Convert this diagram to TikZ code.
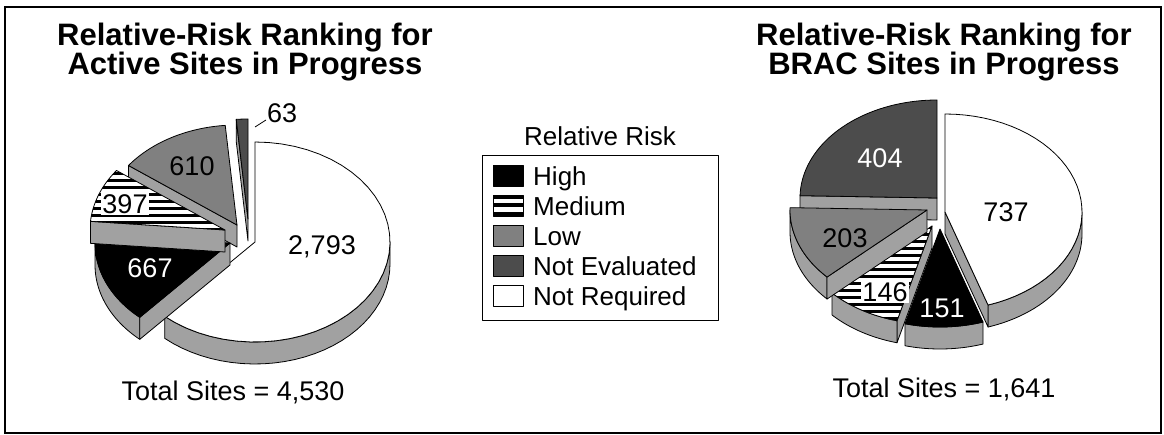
\documentclass[tikz,border=0pt]{standalone}
\usepackage{fontspec}
\setmainfont{Liberation Sans}
\usepackage{tikz}
\usetikzlibrary{positioning}
\definecolor{sidegray}{gray}{0.63}
\definecolor{lowgray}{gray}{0.5}
\definecolor{evalgray}{gray}{0.3}

\tikzset{
  outline/.style={draw=black, line width=0.8pt, line join=round},
  sideface/.style={outline, fill=sidegray},
  lbl/.style={inner sep=0pt, font=\fontsize{27}{30}\selectfont},
  titletext/.style={anchor=base, inner sep=0pt, font=\fontsize{31}{31}\selectfont\bfseries},
  legtext/.style={anchor=base west, inner sep=0pt, font=\fontsize{26}{28}\selectfont},
  swatch/.style={outline, minimum width=30pt, minimum height=21pt, inner sep=0pt},
}

% pie pieces: centre x, centre y, angles; radii \prx, \pry, thickness \pdepth
\def\prx{135}\def\pry{100}\def\pdepth{22}
\newcommand{\rimside}[4]{%
  \path[sideface] plot[domain=#3:#4,samples=30] ({#1+\prx*cos(\x)},{#2-\pry*sin(\x)})
    -- plot[domain=#4:#3,samples=30] ({#1+\prx*cos(\x)},{#2+\pdepth-\pry*sin(\x)}) -- cycle;}
\newcommand{\cutside}[3]{%
  \path[sideface] (#1,#2) -- ({#1+\prx*cos(#3)},{#2-\pry*sin(#3)})
    -- ({#1+\prx*cos(#3)},{#2+\pdepth-\pry*sin(#3)}) -- (#1,{#2+\pdepth}) -- cycle;}
\newcommand{\slicetop}[5]{%
  \path[outline,#5] (#1,#2) -- plot[domain=#3:#4,samples=40] ({#1+\prx*cos(\x)},{#2-\pry*sin(\x)}) -- cycle;}
\newcommand{\stripetop}[4]{%
  \begin{scope}
    \clip (#1,#2) -- plot[domain=#3:#4,samples=40] ({#1+\prx*cos(\x)},{#2-\pry*sin(\x)}) -- cycle;
    \fill[white] ({#1-\prx},{#2-\pry}) rectangle ({#1+\prx},{#2+\pry});
    \foreach \s in {0,7,...,203}
      \fill[black] ({#1-\prx},{#2-\pry+\s}) rectangle ++(2*\prx,3.5);
  \end{scope}
  \slicetop{#1}{#2}{#3}{#4}{fill=none}}

\begin{document}
\begin{tikzpicture}[x=1pt, y=-1pt]
\useasboundingbox (0,0) rectangle (1164,435);
\draw[line width=2pt] (5,7) rectangle (1161,433);

% titles
\node[titletext] (actTitleA) at (245,46) {Relative-Risk Ranking for};
\node[titletext] (actTitleB) at (245,75) {Active Sites in Progress};
\node[titletext] (bracTitleA) at (944,46) {Relative-Risk Ranking for};
\node[titletext] (bracTitleB) at (944,75) {BRAC Sites in Progress};

% active sites
\def\prx{135}\def\pry{100}
\cutside{248}{219}{95}
\slicetop{248}{219}{90}{95}{fill=evalgray}
\cutside{237}{225}{143.48}
\slicetop{237}{225}{95}{143.48}{fill=lowgray}
\rimside{255}{242}{228.04}{360}
\slicetop{255}{242}{228.04}{450}{fill=white}
\rimside{230}{243}{180}{228.04}
\cutside{230}{243}{228.04}
\slicetop{230}{243}{175.03}{228.04}{fill=black}
\cutside{225}{230}{175.03}
\stripetop{225}{230}{143.48}{175.03}

\node[lbl, text=white] (actHigh) at (150,268) {667};
\node[lbl, fill=white, inner sep=1pt] (actMed) at (125,204) {397};
\node[lbl] (actLow) at (192,166) {610};
\node[lbl] (actReq) at (322,247) {2,793};
\node[lbl, anchor=south west] (actEval) at (267,123) {63};
\coordinate (actEvalTip) at (255,127);
\draw[line width=0.8pt] (actEvalTip) -- ([shift={(-1pt,3pt)}]actEval.south west);
\node[lbl, anchor=base] (actTotal) at (233,400) {Total Sites = 4,530};

% BRAC sites
\def\prx{137}\def\pry{98}
\cutside{937}{198}{178.63}
\slicetop{937}{198}{90}{178.63}{fill=evalgray}
\cutside{932}{226}{255.19}
\rimside{932}{226}{223.16}{255.19}
\stripetop{932}{226}{223.16}{255.19}
\rimside{927}{210}{180}{223.16}
\cutside{927}{210}{223.16}
\slicetop{927}{210}{178.63}{223.16}{fill=lowgray}
\rimside{945}{212}{288.32}{360}
\cutside{945}{212}{288.32}
\slicetop{945}{212}{288.32}{450}{fill=white}
\rimside{940}{229}{255.19}{288.32}
\slicetop{940}{229}{255.19}{288.32}{fill=black}

\node[lbl, text=white] (bracEval) at (880,158) {404};
\node[lbl] (bracReq) at (1006,212) {737};
\node[lbl] (bracLow) at (845,238) {203};
\node[lbl, fill=white, inner sep=1pt] (bracMed) at (885,292) {146};
\node[lbl, text=white] (bracHigh) at (942,308) {151};
\node[lbl, anchor=base] (bracTotal) at (944,397) {Total Sites = 1,641};

% legend
\node[legtext, anchor=base] (legHead) at (600,146) {Relative Risk};
\node[outline, minimum width=236pt, minimum height=165pt] (legBox) at (600,237.5) {};
\foreach \col/\txt [count=\i from 0] in {black/High,white/Medium,lowgray/Low,evalgray/Not Evaluated,white/Not Required}{
  \node[swatch, fill=\col] (sw\i) at (508,{175.5+30*\i}) {};
  \node[legtext] (key\i) at (533,{186+30*\i}) {\txt};
}
\fill[black] (sw1.north west) rectangle ++(30,4);
\fill[black] ([yshift=-8.5pt]sw1.north west) rectangle ++(30,4);
\fill[black] (sw1.south west) rectangle ++(30,-4);
\end{tikzpicture}
\end{document}
